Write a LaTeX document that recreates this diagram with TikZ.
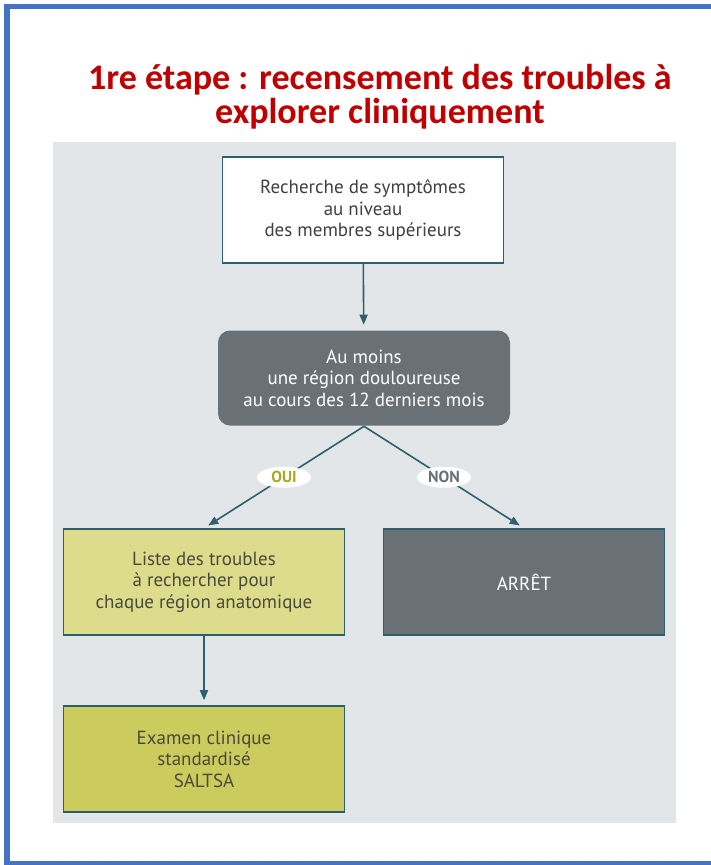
\documentclass[tikz,border=0pt]{standalone}
\usepackage{fontspec}
\setmainfont{PT Sans}
\newfontfamily\titlefont{Carlito}
\usetikzlibrary{arrows.meta, shapes.geometric}
\definecolor{frameblue}{HTML}{4472C4}
\definecolor{titlered}{HTML}{C00000}
\definecolor{panelgrey}{HTML}{E3E6E8}
\definecolor{edgeteal}{HTML}{2E5F6C}
\definecolor{slate}{HTML}{6A7176}
\definecolor{paleolive}{HTML}{DCDC8C}
\definecolor{olive}{HTML}{CCCB5E}
\definecolor{olivetext}{HTML}{A9A820}
\definecolor{boxtext}{HTML}{4A4A3A}

\begin{document}
\begin{tikzpicture}[x=1pt, y=-1pt,
    box/.style = {draw=edgeteal, line width=1.6pt, minimum width=281pt, minimum height=106pt,
                  align=center, font=\fontsize{19}{21.5}\selectfont, text=boxtext},
    tag/.style = {fill=white, ellipse, inner sep=1pt, minimum width=54pt, minimum height=21pt,
                  font=\bfseries\fontsize{16}{18}\selectfont},
    link/.style = {draw=edgeteal, line width=1.6pt, -{Triangle[length=10pt, width=8pt]}, shorten >=5pt}]
    \useasboundingbox (0,0) rectangle (711,865);
    % frame and panel
    \fill[frameblue] (4,4) rectangle (711,9);
    \fill[frameblue] (4,4) rectangle (10,865);
    \fill[frameblue] (4,861) rectangle (711,865);
    \fill[panelgrey] (53,142) rectangle (676,823);

    \node[font=\titlefont\bfseries\fontsize{36}{34}\selectfont, text=titlered, align=center] (title) at (380,97)
        {1re étape : recensement des troubles à\\explorer cliniquement};

    \node[box, fill=white, text=black!75] (search) at (363,210) {Recherche de symptômes\\au niveau\\des membres supérieurs};
    \node[box, fill=slate, text=white, draw=none, rounded corners=12pt, minimum width=292pt, minimum height=95pt] (pain) at (364,378)
        {Au moins\\une région douloureuse\\au cours des 12 derniers mois};
    \node[box, fill=paleolive] (list) at (204,582) {Liste des troubles\\à rechercher pour\\chaque région anatomique};
    \node[box, fill=slate, text=white] (stop) at (524,582) {ARRÊT};
    \node[box, fill=olive] (exam) at (204,759) {Examen clinique\\standardisé\\SALTSA};

    \path[link] (search) -- (pain);
    \path[link] (pain.south) -- node[tag, text=olivetext] {OUI} (list.north);
    \path[link] (pain.south) -- node[tag, text=slate] {NON} (stop.north);
    \path[link] (list) -- (exam);
\end{tikzpicture}
\end{document}
